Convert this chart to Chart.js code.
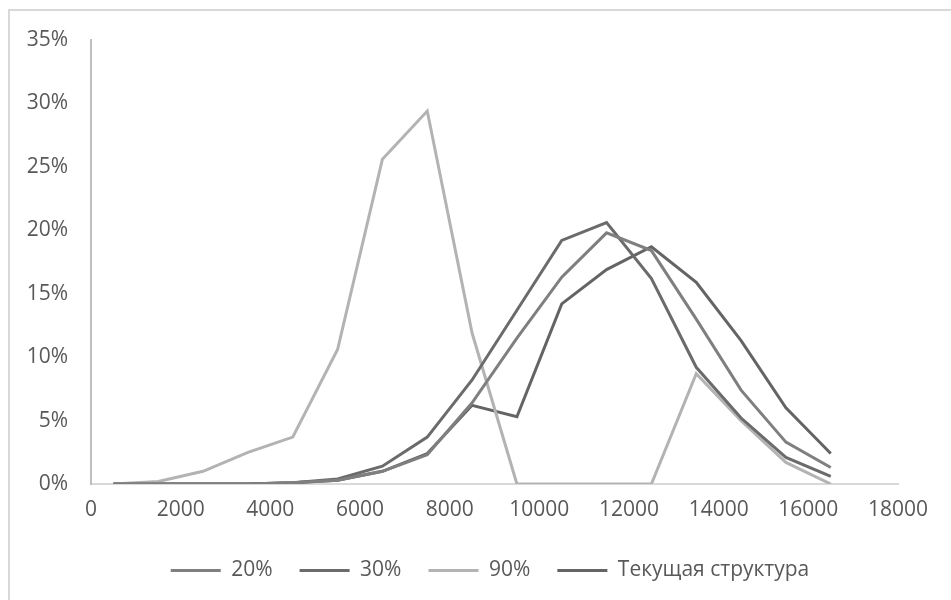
<!DOCTYPE html>
<html>
<head>
<meta charset="utf-8">
<script src="https://cdn.jsdelivr.net/npm/chart.js@4.4.1/dist/chart.umd.min.js"></script>
<style>
  html, body { margin: 0; padding: 0; background: #ffffff; }
  #wrap { position: relative; width: 951px; height: 600px; }
  canvas { display: block; }
</style>
</head>
<body>
<div id="wrap"><canvas id="chart" width="951" height="600"></canvas></div>
<script>
// Income bins (midpoints) and share of population in each bin, %
const bins = [500, 1500, 2500, 3500, 4500, 5500, 6500, 7500, 8500, 9500, 10500, 11500, 12500, 13500, 14500, 15500, 16500];
const share20 = [0, 0, 0, 0, 0.1, 0.3, 1.0, 2.3, 6.4, 11.5, 16.3, 19.8, 18.4, 13.0, 7.4, 3.3, 1.3];
const share30 = [0, 0, 0, 0, 0.1, 0.4, 1.4, 3.7, 8.2, 13.7, 19.2, 20.6, 16.2, 9.2, 5.2, 2.1, 0.6];
const share90 = [0, 0.2, 1.0, 2.5, 3.7, 10.6, 25.6, 29.4, 11.9, 0, 0, 0, 0, 8.7, 5.0, 1.7, 0];
const shareCurrent = [0, 0, 0, 0, 0.1, 0.3, 1.0, 2.4, 6.2, 5.3, 14.2, 16.9, 18.7, 15.9, 11.3, 6.0, 2.4];

const seriesNames = ['20%', '30%', '90%', 'Текущая структура'];
const xTicks = [0, 2000, 4000, 6000, 8000, 10000, 12000, 14000, 16000, 18000];
const yTicks = [0, 5, 10, 15, 20, 25, 30, 35];

const FONT = { family: '"Open Sans", "DejaVu Sans", sans-serif', size: 21 };
const TEXT = '#595959';

const toPoints = arr => arr.map((v, i) => ({ x: bins[i], y: v }));

function series(name, data, color) {
  return {
    label: name,
    data: toPoints(data),
    borderColor: color,
    backgroundColor: color,
    borderWidth: 3,
    pointRadius: 0,
    pointHoverRadius: 0,
    tension: 0,
    borderJoinStyle: 'miter'
  };
}

// Thin outer frame of the chart object
const framePlugin = {
  id: 'frame',
  beforeDraw(chart) {
    const ctx = chart.ctx;
    ctx.save();
    ctx.strokeStyle = '#d9d9d9';
    ctx.lineWidth = 2;
    ctx.beginPath();
    ctx.moveTo(9, 600);
    ctx.lineTo(9, 10);
    ctx.lineTo(951, 10);
    ctx.stroke();
    ctx.restore();
  }
};

// Move the legend row to the right of the default centre
const legendShift = {
  id: 'legendShift',
  afterLayout(chart) {
    const lg = chart.legend;
    if (lg) { lg.left += 31; lg.right += 31; }
  }
};

new Chart(document.getElementById('chart'), {
  type: 'line',
  data: {
    datasets: [
      series(seriesNames[0], share20, '#7f7f7f'),
      series(seriesNames[1], share30, '#6b6b6b'),
      series(seriesNames[2], share90, '#b3b3b3'),
      series(seriesNames[3], shareCurrent, '#646464')
    ]
  },
  options: {
    responsive: false,
    animation: false,
    events: [],
    layout: { padding: { left: 20, right: 53, top: 40, bottom: 9 } },
    scales: {
      x: {
        type: 'linear',
        min: xTicks[0],
        max: xTicks[xTicks.length - 1],
        afterBuildTicks: s => { s.ticks = xTicks.map(v => ({ value: v })); },
        afterFit: s => { s.height = 49; },
        grid: { display: false, drawTicks: false },
        border: { display: true, color: '#d9d9d9', width: 2 },
        ticks: { color: TEXT, font: FONT, padding: 13, maxRotation: 0, autoSkip: false,
                 callback: v => String(v) }
      },
      y: {
        type: 'linear',
        min: yTicks[0],
        max: yTicks[yTicks.length - 1],
        afterBuildTicks: s => { s.ticks = yTicks.map(v => ({ value: v })); },
        afterFit: s => { s.width = 71; },
        grid: { display: false, drawTicks: false },
        border: { display: true, color: '#bfbfbf', width: 2 },
        ticks: { color: TEXT, font: FONT, padding: 23, callback: v => v + '%' }
      }
    },
    plugins: {
      tooltip: { enabled: false },
      legend: {
        position: 'bottom',
        labels: {
          color: TEXT,
          font: FONT,
          boxWidth: 50,
          boxHeight: 3,
          padding: 27,
          generateLabels(chart) {
            return chart.data.datasets.map((ds, i) => ({
              text: ds.label,
              fillStyle: ds.borderColor,
              strokeStyle: ds.borderColor,
              lineWidth: 0,
              fontColor: TEXT,
              datasetIndex: i,
              hidden: false
            }));
          }
        }
      }
    }
  },
  plugins: [framePlugin, legendShift]
});
</script>
</body>
</html>
